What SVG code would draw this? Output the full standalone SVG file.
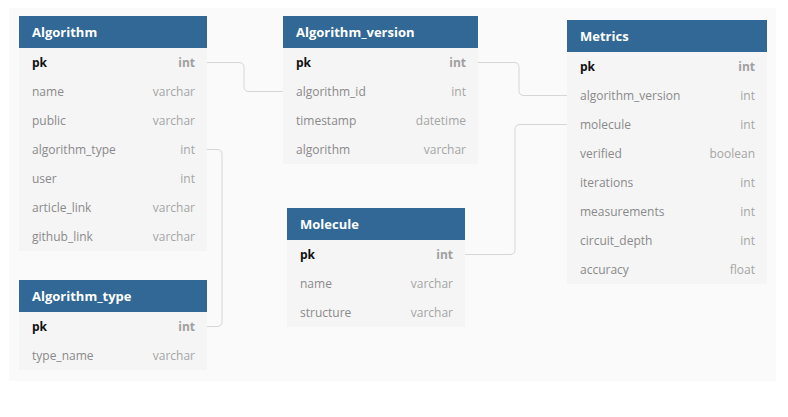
<svg xmlns="http://www.w3.org/2000/svg" width="788" height="417" viewBox="0 0 788 417">
<style>
.bg{fill:#fafafa}
.hd{fill:#316896}
.bd{fill:#f5f5f5}
.ht{font-family:"Open Sans","Liberation Sans",sans-serif;font-size:13px;font-weight:bold;fill:#ffffff}
.fn{font-family:"Open Sans","Liberation Sans",sans-serif;font-size:12px;fill:#8a8a8a}
.ft{font-family:"Open Sans","Liberation Sans",sans-serif;font-size:12px;fill:#a5a5a5;text-anchor:end}
.pk{font-family:"Open Sans","Liberation Sans",sans-serif;font-size:12px;font-weight:bold;fill:#111111}
.pt{font-family:"Open Sans","Liberation Sans",sans-serif;font-size:12px;font-weight:bold;fill:#a0a0a0;text-anchor:end}
.cn{fill:none;stroke:#d6d6d6;stroke-width:1}
</style>
<rect class="bg" x="9" y="8" width="767" height="373"/>
<g id="connectors">
<path class="cn" d="M207,62.5 H239 Q244,62.5 244,67.5 V86.5 Q244,91.5 249,91.5 H283"/>
<path class="cn" d="M207,149.5 H217 Q222,149.5 222,154.5 V321.5 Q222,326.5 217,326.5 H207"/>
<path class="cn" d="M478,62.5 H514 Q519,62.5 519,67.5 V90.5 Q519,95.5 524,95.5 H567"/>
<path class="cn" d="M465,254.5 H510 Q515,254.5 515,249.5 V129.5 Q515,124.5 520,124.5 H567"/>
</g>
<g id="Algorithm">
<rect class="hd" x="19" y="16" width="188" height="32"/>
<rect class="bd" x="19" y="48" width="188" height="203"/>
<text class="ht" x="32" y="37">Algorithm</text>
<text class="pk" x="32" y="67">pk</text><text class="pt" x="195" y="67">int</text>
<text class="fn" x="32" y="96">name</text><text class="ft" x="195" y="96">varchar</text>
<text class="fn" x="32" y="125">public</text><text class="ft" x="195" y="125">varchar</text>
<text class="fn" x="32" y="154">algorithm_type</text><text class="ft" x="195" y="154">int</text>
<text class="fn" x="32" y="183">user</text><text class="ft" x="195" y="183">int</text>
<text class="fn" x="32" y="212">article_link</text><text class="ft" x="195" y="212">varchar</text>
<text class="fn" x="32" y="241">github_link</text><text class="ft" x="195" y="241">varchar</text>
</g>
<g id="Algorithm_type">
<rect class="hd" x="19" y="280" width="188" height="32"/>
<rect class="bd" x="19" y="312" width="188" height="58"/>
<text class="ht" x="32" y="301">Algorithm_type</text>
<text class="pk" x="32" y="331">pk</text><text class="pt" x="195" y="331">int</text>
<text class="fn" x="32" y="360">type_name</text><text class="ft" x="195" y="360">varchar</text>
</g>
<g id="Algorithm_version">
<rect class="hd" x="283" y="16" width="195" height="32"/>
<rect class="bd" x="283" y="48" width="195" height="116"/>
<text class="ht" x="296" y="37">Algorithm_version</text>
<text class="pk" x="296" y="67">pk</text><text class="pt" x="466" y="67">int</text>
<text class="fn" x="296" y="96">algorithm_id</text><text class="ft" x="466" y="96">int</text>
<text class="fn" x="296" y="125">timestamp</text><text class="ft" x="466" y="125">datetime</text>
<text class="fn" x="296" y="154">algorithm</text><text class="ft" x="466" y="154">varchar</text>
</g>
<g id="Molecule">
<rect class="hd" x="287" y="208" width="178" height="32"/>
<rect class="bd" x="287" y="240" width="178" height="87"/>
<text class="ht" x="300" y="229">Molecule</text>
<text class="pk" x="300" y="259">pk</text><text class="pt" x="453" y="259">int</text>
<text class="fn" x="300" y="288">name</text><text class="ft" x="453" y="288">varchar</text>
<text class="fn" x="300" y="317">structure</text><text class="ft" x="453" y="317">varchar</text>
</g>
<g id="Metrics">
<rect class="hd" x="567" y="20" width="200" height="32"/>
<rect class="bd" x="567" y="52" width="200" height="232"/>
<text class="ht" x="580" y="41">Metrics</text>
<text class="pk" x="580" y="71">pk</text><text class="pt" x="755" y="71">int</text>
<text class="fn" x="580" y="100">algorithm_version</text><text class="ft" x="755" y="100">int</text>
<text class="fn" x="580" y="129">molecule</text><text class="ft" x="755" y="129">int</text>
<text class="fn" x="580" y="158">verified</text><text class="ft" x="755" y="158">boolean</text>
<text class="fn" x="580" y="187">iterations</text><text class="ft" x="755" y="187">int</text>
<text class="fn" x="580" y="216">measurements</text><text class="ft" x="755" y="216">int</text>
<text class="fn" x="580" y="245">circuit_depth</text><text class="ft" x="755" y="245">int</text>
<text class="fn" x="580" y="274">accuracy</text><text class="ft" x="755" y="274">float</text>
</g>
</svg>
